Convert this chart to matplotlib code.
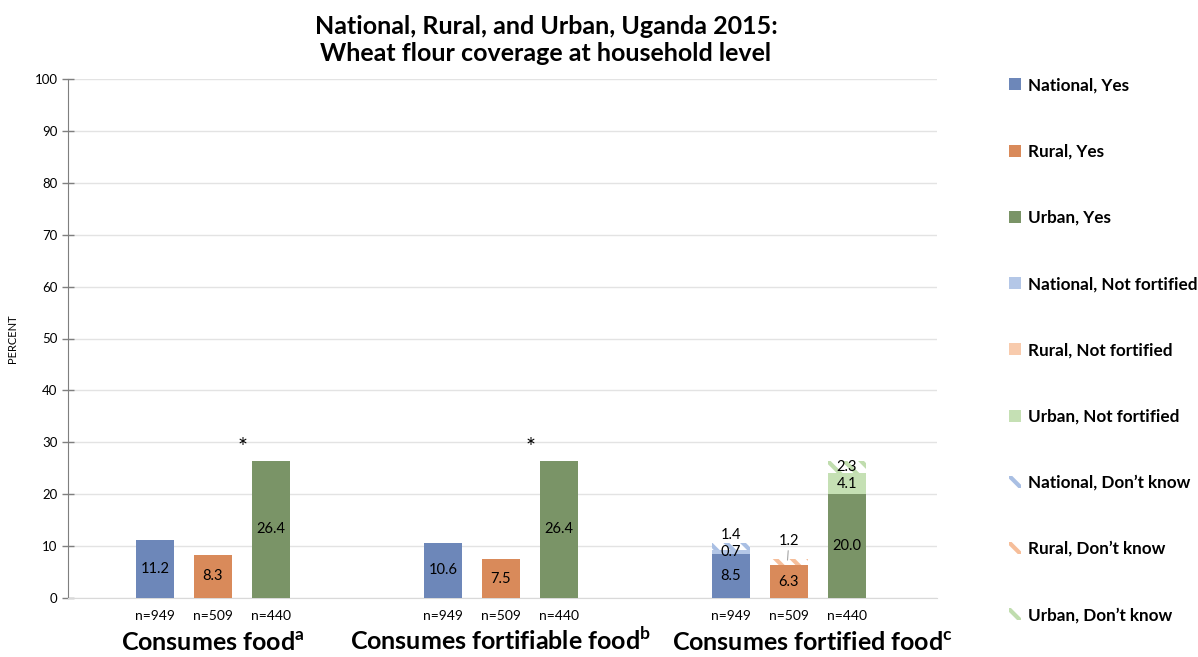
import matplotlib
matplotlib.use("Agg")
import matplotlib.pyplot as plt
from matplotlib.patches import Patch
import numpy as np

plt.rcParams['font.family'] = ['Lato', 'DejaVu Sans']
plt.rcParams['mathtext.fontset'] = 'custom'
plt.rcParams['mathtext.rm'] = 'Lato'
plt.rcParams['mathtext.bf'] = 'Lato:bold'
plt.rcParams['hatch.linewidth'] = 3.0

title = "National, Rural, and Urban, Uganda 2015:\nWheat flour coverage at household level"
groups = [r"Consumes food$^{\mathbf{a}}$", r"Consumes fortifiable food$^{\mathbf{b}}$", r"Consumes fortified food$^{\mathbf{c}}$"]
series = ["National", "Rural", "Urban"]
n_labels = ["n=949", "n=509", "n=440"]

yes_vals = {
    "National": [11.2, 10.6, 8.5],
    "Rural": [8.3, 7.5, 6.3],
    "Urban": [26.4, 26.4, 20.0],
}
notfort_vals = {"National": 0.7, "Rural": 0.0, "Urban": 4.1}
dontknow_vals = {"National": 1.4, "Rural": 1.2, "Urban": 2.3}
asterisk_groups = [0, 1]

dark = {"National": "#6D87B9", "Rural": "#D98A5A", "Urban": "#7A9467"}
light = {"National": "#B4C7E7", "Rural": "#F8CBAD", "Urban": "#C5E0B4"}
hatchc = {"National": "#A9BFE3", "Rural": "#F6BE9A", "Urban": "#C0DDAE"}

fig = plt.figure(figsize=(11.98, 6.57), dpi=100)
ax = fig.add_axes([68/1198, 1-598/657, (937-68)/1198, (598-79)/657])

offsets = [-0.2014, 0.0, 0.2014]
width = 0.132
gx = np.arange(len(groups))

handles_yes, handles_nf, handles_dk = [], [], []
for si, s in enumerate(series):
    x = gx + offsets[si]
    ax.bar(x, yes_vals[s], width, color=dark[s], zorder=3)
    handles_yes.append(Patch(facecolor=dark[s], label=f"{s}, Yes"))
    for gi, v in enumerate(yes_vals[s]):
        ax.text(x[gi], v/2, f"{v:.1f}", ha='center', va='center', fontsize=10.5, zorder=5)
    xf = gx[2] + offsets[si]
    base = yes_vals[s][2]
    nf = notfort_vals[s]
    ax.bar(xf, nf, width, bottom=base, color=light[s], zorder=3)
    handles_nf.append(Patch(facecolor=light[s], label=f"{s}, Not fortified"))
    if nf > 0:
        ax.text(xf, base + nf/2, f"{nf:.1f}", ha='center', va='center', fontsize=10.5, zorder=5)
    dk = dontknow_vals[s]
    ax.bar(xf, dk, width, bottom=base + nf, facecolor='white', edgecolor=hatchc[s],
           hatch='\\\\', linewidth=0, zorder=3)
    handles_dk.append(Patch(facecolor='white', edgecolor=hatchc[s], hatch='\\\\', linewidth=0,
                            label=f"{s}, Don\u2019t know"))
    top = base + nf + dk
    if s == "Urban":
        ax.text(xf, base + nf + dk/2, f"{dk:.1f}", ha='center', va='center', fontsize=10.5, zorder=5)
    elif s == "National":
        ax.text(xf, top + 1.5, f"{dk:.1f}", ha='center', va='center', fontsize=10.5, zorder=5)
    else:
        ax.annotate(f"{dk:.1f}", xy=(xf - 0.005, top - 0.2), xytext=(xf, top + 3.5),
                    ha='center', va='center', fontsize=10.5, zorder=5,
                    arrowprops=dict(arrowstyle='-', color='#A6A6A6', lw=0.8,
                                    shrinkA=7, shrinkB=0))

for gi in asterisk_groups:
    x = gx[gi] + offsets[2]
    ax.text(x - 0.1, 29.0, "*", ha='center', va='center', fontsize=17, zorder=5)

ax.set_ylim(0, 100)
ax.set_xlim(-0.503, 2.514)
ax.set_yticks(np.arange(0, 101, 10))
ax.tick_params(axis='y', labelsize=9.5, direction='inout', length=8, color='#7F7F7F', width=1)
ax.grid(axis='y', color='#E3E3E3', lw=1, zorder=0)
for sp in ['top', 'right']:
    ax.spines[sp].set_visible(False)
ax.spines['left'].set_color('#7F7F7F')
ax.spines['bottom'].set_color('#D9D9D9')

xt = np.concatenate([gx + o for o in offsets])
xl = [n_labels[i // 3] for i in range(9)]
ax.set_xticks(xt)
ax.set_xticklabels(xl, fontsize=10)
ax.tick_params(axis='x', length=0, pad=9)

ax.set_ylabel("PERCENT", fontsize=8)
ax.yaxis.set_label_coords(-0.058, 0.5)

label_shift = [0.0, 0.0, 0.08]
for gi, g in enumerate(groups):
    ax.text(gx[gi] + offsets[1] + label_shift[gi], -10.1, g, ha='center', va='baseline', fontsize=18,
            fontweight='bold', transform=ax.transData, clip_on=False)

fig.text(546/1198, 1-40/657, title, ha='center', va='center', fontsize=18,
         fontweight='bold', linespacing=1.2)

handles = handles_yes + handles_nf + handles_dk
fig.legend(handles=handles, loc='upper left', bbox_to_anchor=(994/1198, 1-62/657),
           frameon=False, prop={'weight': 'bold', 'size': 12.3}, labelspacing=2.94,
           handlelength=0.7, handleheight=0.7, handletextpad=0.4)

fig.savefig("out.png", dpi=100)
